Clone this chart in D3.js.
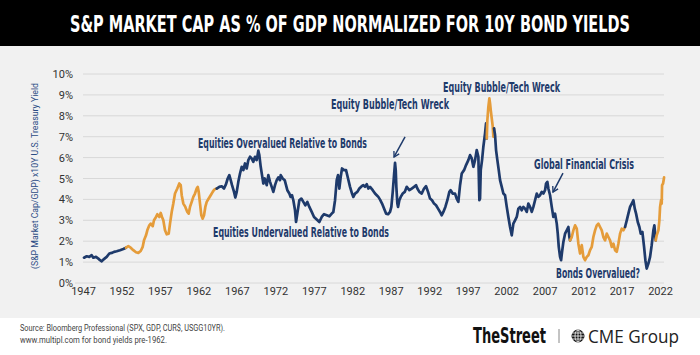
<!DOCTYPE html>
<html>
<head>
<meta charset="utf-8">
<script src="https://cdn.jsdelivr.net/npm/d3@7"></script>
<style>
  html, body { margin: 0; padding: 0; background: #ffffff; }
  svg { display: block; }
</style>
</head>
<body>
<div id="chart"></div>
<script>
// ---------------- DATA ----------------
const titleText = "S&P MARKET CAP AS % OF GDP NORMALIZED FOR 10Y BOND YIELDS";
const yAxisTitle = "(S&P Market Cap/GDP) x10Y U.S. Treasury Yield";
const yTicks = [0, 1, 2, 3, 4, 5, 6, 7, 8, 9, 10];
const xTicks = [1947, 1952, 1957, 1962, 1967, 1972, 1977, 1982, 1987, 1992, 1997, 2002, 2007, 2012, 2017, 2022];
const sourceLines = ["Source: Bloomberg Professional (SPX, GDP, CUR$, USGG10YR).", "www.multipl.com for bond yields pre-1962."];

// [year, % value] — navy = normal, orange = highlighted periods
const navy1947 = [[1947.13,1.21],[1947.48,1.28],[1947.82,1.25],[1948.13,1.33],[1948.34,1.21],[1948.69,1.25],[1948.99,1.17],[1949.21,1.09],[1949.43,1.04],[1949.64,1.12],[1950.08,1.25],[1950.42,1.41],[1950.73,1.44],[1951.03,1.49],[1951.38,1.52],[1951.81,1.57],[1952.24,1.63],[1952.59,1.69]];
const orange1952 = [[1952.59,1.69],[1952.89,1.76],[1953.20,1.69],[1953.54,1.57],[1953.89,1.47],[1954.19,1.44],[1954.50,1.53],[1954.76,1.73],[1954.93,2.04],[1955.19,2.28],[1955.36,2.52],[1955.62,2.76],[1955.80,2.84],[1956.06,2.72],[1956.23,3.00],[1956.49,3.16],[1956.66,3.29],[1956.92,3.16],[1957.10,3.35],[1957.27,3.16],[1957.44,3.00],[1957.66,2.52],[1957.88,2.33],[1958.14,2.36],[1958.31,2.84],[1958.53,3.40],[1958.74,3.80],[1958.96,4.28],[1959.26,4.52],[1959.52,4.76],[1959.70,4.68],[1959.83,4.20],[1960.04,3.80],[1960.30,3.64],[1960.56,3.40],[1960.74,3.32],[1960.91,3.64],[1961.13,3.88],[1961.34,4.12],[1961.56,4.28],[1961.78,4.52],[1961.91,4.60],[1962.04,4.36],[1962.21,3.80],[1962.38,3.24],[1962.56,3.08],[1962.73,3.24],[1962.90,3.64],[1963.08,3.88],[1963.34,4.04],[1963.60,4.20],[1963.86,4.36],[1964.07,4.47],[1964.29,4.52],[1964.38,4.52]];
const navy1964 = [[1964.38,4.52],[1964.72,4.60],[1965.03,4.63],[1965.33,4.52],[1965.59,4.73],[1965.81,5.00],[1966.02,5.16],[1966.20,4.92],[1966.37,4.68],[1966.63,4.36],[1966.80,4.09],[1966.98,4.36],[1967.19,4.84],[1967.41,5.24],[1967.63,5.56],[1967.84,5.40],[1968.06,5.72],[1968.28,5.48],[1968.49,5.88],[1968.71,6.04],[1968.92,5.96],[1969.14,5.80],[1969.36,6.04],[1969.58,5.88],[1969.79,6.33],[1969.92,6.12],[1970.10,5.56],[1970.27,5.16],[1970.44,4.76],[1970.62,5.00],[1970.88,4.68],[1971.09,5.16],[1971.31,4.84],[1971.53,4.60],[1971.74,4.36],[1971.96,4.68],[1972.18,4.92],[1972.39,5.05],[1972.61,4.92],[1972.70,5.16],[1972.96,5.00],[1973.22,4.92],[1973.39,4.68],[1973.56,4.44],[1973.82,4.28],[1973.99,4.12],[1974.17,4.20],[1974.34,3.96],[1974.56,3.48],[1974.69,2.92],[1974.86,3.32],[1975.12,3.96],[1975.38,4.04],[1975.64,3.88],[1975.90,3.72],[1976.16,3.88],[1976.42,3.64],[1976.73,3.40],[1977.03,3.16],[1977.38,3.04],[1977.72,2.92],[1978.03,3.16],[1978.33,3.29],[1978.68,3.24],[1979.02,3.19],[1979.33,3.32],[1979.54,3.40],[1979.76,3.96],[1979.98,4.92],[1980.15,5.16],[1980.32,4.52],[1980.50,5.08],[1980.67,5.48],[1980.93,5.40],[1981.19,5.40],[1981.45,5.00],[1981.71,4.60],[1981.97,4.28],[1982.14,4.12],[1982.36,4.28],[1982.66,4.36],[1982.92,4.52],[1983.23,4.63],[1983.44,4.68],[1983.66,4.60],[1983.88,4.73],[1984.09,4.52],[1984.31,4.60],[1984.66,4.44],[1984.96,4.28],[1985.18,4.20],[1985.39,4.12],[1985.61,3.99],[1985.87,3.80],[1986.13,3.56],[1986.39,3.32],[1986.65,3.29],[1986.91,3.40],[1987.08,3.64],[1987.26,4.36],[1987.43,5.16],[1987.56,5.75],[1987.65,5.40],[1987.73,4.60],[1987.86,3.80],[1987.95,3.64],[1988.12,3.96],[1988.30,4.12],[1988.56,4.28],[1988.82,4.36],[1989.08,4.60],[1989.42,4.44],[1989.73,4.52],[1990.03,4.60],[1990.29,4.68],[1990.46,4.52],[1990.72,4.36],[1991.03,4.28],[1991.33,4.52],[1991.59,4.63],[1991.85,4.36],[1992.11,4.04],[1992.37,3.96],[1992.63,3.80],[1992.89,3.72],[1993.15,3.56],[1993.41,3.40],[1993.63,3.24],[1993.84,3.40],[1994.10,3.64],[1994.36,3.96],[1994.62,4.36],[1994.79,4.44],[1995.05,4.28],[1995.36,4.28],[1995.57,4.04],[1995.79,3.88],[1996.01,4.68],[1996.23,5.24],[1996.53,5.40],[1996.79,5.64],[1997.09,5.88],[1997.31,6.12],[1997.53,5.96],[1997.74,5.56],[1997.96,5.88],[1998.18,6.36],[1998.39,6.04],[1998.52,3.96],[1998.61,4.04],[1998.70,5.40],[1998.87,5.88],[1999.04,6.52],[1999.26,7.16],[1999.39,7.64],[1999.48,6.92]];
const orange1999 = [[1999.48,6.92],[1999.56,7.80],[1999.69,8.43],[1999.82,8.83],[1999.91,8.59],[2000.00,8.27],[2000.13,7.88],[2000.26,7.48],[2000.34,7.00],[2000.43,7.40]];
const navy2000 = [[2000.43,7.40],[2000.56,7.08],[2000.69,6.36],[2000.86,5.88],[2001.04,5.40],[2001.21,4.92],[2001.43,4.60],[2001.64,4.28],[2001.86,4.20],[2002.08,3.64],[2002.29,3.16],[2002.51,2.68],[2002.73,2.28],[2002.94,2.84],[2003.16,3.00],[2003.38,3.16],[2003.59,3.56],[2003.81,3.64],[2004.03,3.48],[2004.24,3.64],[2004.46,3.56],[2004.68,3.40],[2004.89,3.80],[2005.11,3.64],[2005.33,3.40],[2005.54,3.64],[2005.76,3.96],[2005.98,4.28],[2006.19,4.12],[2006.41,4.20],[2006.63,4.36],[2006.84,4.28],[2007.06,4.44],[2007.19,4.76],[2007.36,4.84],[2007.49,4.52],[2007.71,4.20],[2007.93,3.64],[2008.14,3.16],[2008.36,3.32],[2008.58,2.84],[2008.71,2.36],[2008.84,1.73],[2009.01,1.25],[2009.14,1.09],[2009.27,1.49],[2009.44,1.96],[2009.66,2.36],[2009.88,2.52],[2010.09,2.68],[2010.22,2.20],[2010.31,2.04]];
const orange2010 = [[2010.31,2.04],[2010.53,2.20],[2010.74,2.52],[2010.96,2.76],[2011.18,2.60],[2011.39,1.88],[2011.61,1.41],[2011.83,1.81],[2012.04,1.25],[2012.26,1.09],[2012.48,1.25],[2012.69,1.33],[2012.91,1.57],[2013.13,1.73],[2013.34,2.20],[2013.56,2.52],[2013.78,2.76],[2013.99,2.84],[2014.21,2.68],[2014.43,2.52],[2014.64,2.20],[2014.86,2.04],[2015.08,2.36],[2015.29,2.20],[2015.51,2.04],[2015.73,1.73],[2015.94,1.88],[2016.16,1.57],[2016.38,1.49],[2016.59,1.88],[2016.81,2.36],[2017.03,2.60],[2017.24,2.52],[2017.46,2.68]];
const navy2017 = [[2017.46,2.68],[2017.68,3.00],[2017.89,3.32],[2018.11,3.64],[2018.33,3.80],[2018.54,3.96],[2018.72,3.56],[2018.89,3.32],[2019.11,2.92],[2019.32,2.68],[2019.50,2.36],[2019.71,2.44],[2019.93,1.73],[2020.10,1.09],[2020.27,0.69],[2020.49,0.93],[2020.71,1.25],[2020.92,1.81],[2021.14,2.52],[2021.27,2.76],[2021.44,2.04]];
const orange2021 = [[2021.44,2.04],[2021.57,2.28],[2021.79,2.52],[2021.92,3.00],[2022.01,3.64],[2022.14,3.96],[2022.22,3.80],[2022.27,4.68],[2022.40,4.76],[2022.53,5.05]];

const segments = [
  {data: navy1947, kind: "navy"}, {data: orange1952, kind: "orange"},
  {data: navy1964, kind: "navy"}, {data: orange1999, kind: "orange"},
  {data: navy2000, kind: "navy"}, {data: orange2010, kind: "orange"},
  {data: navy2017, kind: "navy"}, {data: orange2021, kind: "orange"}
];

// annotation labels anchored at [year, value] (left edge, vertical middle)
const annotations = [
  {text: "Equities Overvalued Relative to Bonds", year: 1961.95, value: 6.70, len: 169},
  {text: "Equities Undervalued Relative to Bonds", year: 1963.90, value: 2.44, len: 176},
  {text: "Equity Bubble/Tech Wreck", year: 1979.24, value: 8.56, len: 118},
  {text: "Equity Bubble/Tech Wreck", year: 1993.80, value: 9.38, len: 117},
  {text: "Global Financial Crisis", year: 2005.63, value: 5.69, len: 100},
  {text: "Bonds Overvalued?", year: 2008.48, value: 0.48, len: 84}
];
const arrows = [
  {from: [1988.86, 6.99], to: [1987.43, 6.03]},
  {from: [2009.39, 5.26], to: [2008.09, 4.35]}
];

// ---------------- DRAW ----------------
const W = 700, H = 355;
const colors = {navy: "#1e3a6b", orange: "#e59c3a"};
const svg = d3.select("#chart").append("svg").attr("width", W).attr("height", H);

svg.append("rect").attr("x", 0).attr("y", 0).attr("width", W).attr("height", H).attr("fill", "#ffffff");
svg.append("rect").attr("x", 0).attr("y", 46).attr("width", W).attr("height", 272).attr("fill", "#f1f1f1");
svg.append("rect").attr("x", 0).attr("y", 0).attr("width", W).attr("height", 46).attr("fill", "#000000");

svg.append("text").attr("x", 350).attr("y", 24)
  .attr("text-anchor", "middle").attr("dominant-baseline", "central")
  .attr("font-family", "'Liberation Sans Narrow', 'DejaVu Sans Condensed', sans-serif")
  .attr("font-weight", "bold").attr("font-size", 23).attr("fill", "#ffffff")
  .attr("textLength", 560).attr("lengthAdjust", "spacingAndGlyphs")
  .text(titleText);

const x = d3.scaleLinear().domain([1947, 2022]).range([83, 660]);
const y = d3.scaleLinear().domain([0, 10]).range([283, 74]);

// grid
const grid = svg.append("g");
grid.selectAll("line").data(yTicks).join("line")
  .attr("x1", d => d === 0 ? 75 : 83).attr("x2", 664)
  .attr("y1", d => y(d)).attr("y2", d => y(d))
  .attr("stroke", "#d8d8d8").attr("stroke-width", 1);

// y axis
const yAxis = d3.axisLeft(y).tickValues(yTicks).tickFormat(d => d + "%").tickSize(0).tickPadding(0);
const gy = svg.append("g").attr("transform", "translate(73,0)").call(yAxis);
gy.select(".domain").remove();
gy.selectAll("text").attr("font-family", "Roboto, 'Noto Sans', sans-serif").attr("font-size", 11).attr("fill", "#333");

// x axis
const xAxis = d3.axisBottom(x).tickValues(xTicks).tickFormat(d3.format("d")).tickSize(0).tickPadding(0);
const gx = svg.append("g").attr("transform", "translate(0,287)").call(xAxis);
gx.select(".domain").remove();
gx.selectAll("text").attr("font-family", "Roboto, 'Noto Sans', sans-serif").attr("font-size", 11).attr("fill", "#333");

// y axis title
svg.append("text").attr("transform", "translate(34,176) rotate(-90)")
  .attr("text-anchor", "middle").attr("dominant-baseline", "central")
  .attr("font-family", "Roboto, 'Noto Sans', sans-serif").attr("font-size", 9.5).attr("fill", "#2b4c85")
  .attr("textLength", 186).attr("lengthAdjust", "spacingAndGlyphs")
  .text(yAxisTitle);

// series
const line = d3.line().x(d => x(d[0])).y(d => y(d[1]));
svg.append("g").selectAll("path").data(segments).join("path")
  .attr("d", d => line(d.data))
  .attr("fill", "none").attr("stroke", d => colors[d.kind])
  .attr("stroke-width", 2.7).attr("stroke-linejoin", "round").attr("stroke-linecap", "round");

// annotations
const annFont = "'Liberation Sans Narrow', 'DejaVu Sans Condensed', sans-serif";
svg.append("g").selectAll("text").data(annotations).join("text")
  .attr("x", d => x(d.year)).attr("y", d => y(d.value))
  .attr("dominant-baseline", "central")
  .attr("font-family", annFont).attr("font-weight", "bold").attr("font-size", 13.5)
  .attr("fill", "#1e3a6b")
  .attr("textLength", d => d.len).attr("lengthAdjust", "spacingAndGlyphs")
  .text(d => d.text);

svg.append("defs").append("marker").attr("id", "ah")
  .attr("viewBox", "0 0 10 10").attr("refX", 8).attr("refY", 5)
  .attr("markerWidth", 5).attr("markerHeight", 5).attr("orient", "auto")
  .append("path").attr("d", "M1,1 L8,5 L1,9").attr("fill", "none").attr("stroke", "#1e3a6b").attr("stroke-width", 1.8);

svg.append("g").selectAll("line").data(arrows).join("line")
  .attr("x1", d => x(d.from[0])).attr("y1", d => y(d.from[1]))
  .attr("x2", d => x(d.to[0])).attr("y2", d => y(d.to[1]))
  .attr("stroke", "#1e3a6b").attr("stroke-width", 1.5).attr("marker-end", "url(#ah)");

// footer
svg.append("g").selectAll("text").data(sourceLines).join("text")
  .attr("x", 20).attr("y", (d, i) => 327 + i * 12)
  .attr("dominant-baseline", "central")
  .attr("font-family", "Roboto, 'Noto Sans', sans-serif").attr("font-size", 9.5).attr("fill", "#444")
  .attr("textLength", (d, i) => i === 0 ? 205 : 147).attr("lengthAdjust", "spacingAndGlyphs")
  .text(d => d);

svg.append("text").attr("x", 473).attr("y", 336).attr("dominant-baseline", "central")
  .attr("font-family", annFont).attr("font-weight", "bold").attr("font-size", 21).attr("fill", "#111")
  .attr("textLength", 73).attr("lengthAdjust", "spacingAndGlyphs")
  .text("TheStreet");
svg.append("line").attr("x1", 559).attr("x2", 559).attr("y1", 329).attr("y2", 343).attr("stroke", "#888").attr("stroke-width", 1);

const globe = svg.append("g").attr("transform", "translate(578,336)").attr("stroke", "#111").attr("fill", "none").attr("stroke-width", 1);
globe.append("circle").attr("r", 6).attr("fill", "#111");
globe.append("ellipse").attr("rx", 3).attr("ry", 6).attr("stroke", "#fff").attr("stroke-width", 0.8);
globe.append("line").attr("x1", 0).attr("x2", 0).attr("y1", -6).attr("y2", 6).attr("stroke", "#fff").attr("stroke-width", 0.8);
[-3, 0, 3].forEach(v => globe.append("line").attr("x1", -6).attr("x2", 6).attr("y1", v).attr("y2", v).attr("stroke", "#fff").attr("stroke-width", 0.8));

svg.append("text").attr("x", 588).attr("y", 336).attr("dominant-baseline", "central")
  .attr("font-family", "'Open Sans', Roboto, sans-serif").attr("font-size", 19).attr("fill", "#222")
  .attr("textLength", 91).attr("lengthAdjust", "spacingAndGlyphs")
  .text("CME Group");
</script>
</body>
</html>
